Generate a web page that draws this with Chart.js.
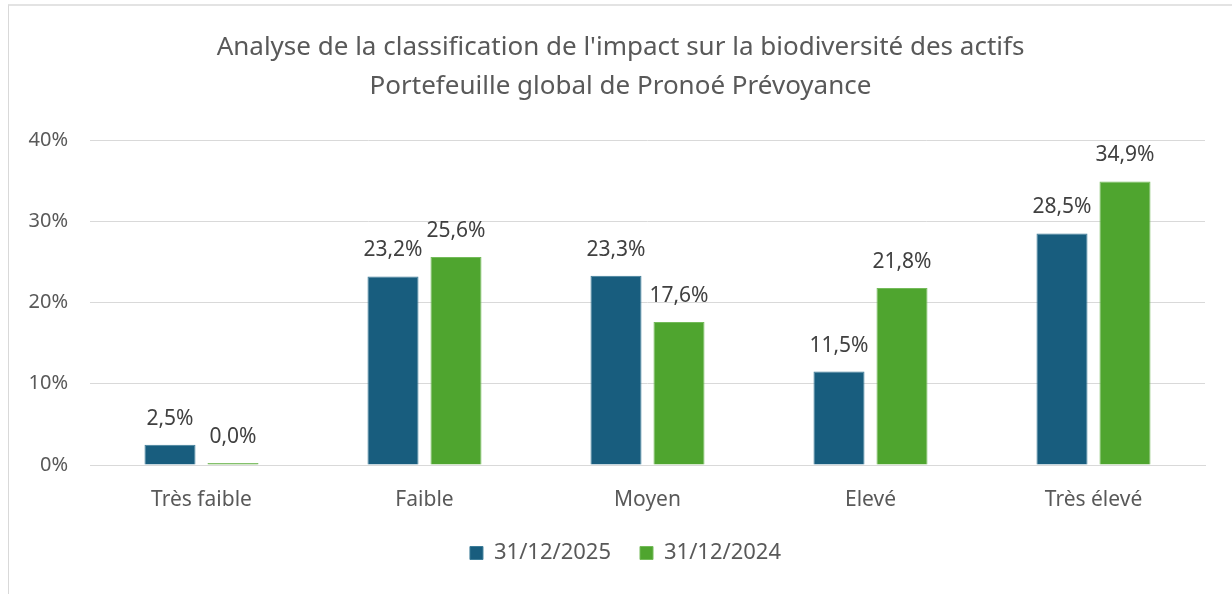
<!DOCTYPE html>
<html>
<head>
<meta charset="utf-8">
<script src="https://cdn.jsdelivr.net/npm/chart.js@4.4.1/dist/chart.umd.min.js"></script>
<style>
  html, body { margin: 0; padding: 0; background: #fff; }
  #cadre { position: absolute; left: 0; top: 0; width: 1232px; height: 594px; overflow: hidden; }
  #bordure { position: absolute; left: 8px; top: 4px; width: 1300px; height: 600px; border: 1px solid #d9d9d9; border-top: 2px solid #e3e3e3; }
  #zone { position: absolute; left: 0; top: 0; width: 1232px; height: 594px; }
</style>
</head>
<body>
<div id="cadre">
  <div id="bordure"></div>
  <div id="zone"><canvas id="graphique"></canvas></div>
</div>
<script>
// Données
const categories = ['Très faible', 'Faible', 'Moyen', 'Elevé', 'Très élevé'];
const valeurs2025 = [2.5, 23.2, 23.3, 11.5, 28.5];
const valeurs2024 = [0.0, 25.6, 17.6, 21.8, 34.9];
const ticksY = [0, 10, 20, 30, 40];
const titre = ["Analyse de la classification de l'impact sur la biodiversité des actifs", 'Portefeuille global de Pronoé Prévoyance'];

const police = '"Noto Sans", sans-serif';

// Étiquettes au-dessus des barres
const etiquettes = {
  id: 'etiquettes',
  afterDatasetsDraw(chart) {
    const ctx = chart.ctx;
    ctx.save();
    ctx.font = '21px ' + police;
    ctx.fillStyle = '#404040';
    ctx.textAlign = 'center';
    ctx.textBaseline = 'middle';
    chart.data.datasets.forEach((ds, i) => {
      chart.getDatasetMeta(i).data.forEach((barre, j) => {
        const txt = ds.data[j].toFixed(1).replace('.', ',') + '%';
        ctx.fillText(txt, barre.x, barre.y - 26);
      });
    });
    ctx.restore();
  }
};

// Titre et légende un peu décalés vers la droite, comme dans Excel
const decalage = {
  id: 'decalage',
  afterLayout(chart) {
    const l = chart.legend;
    l.left += 46;
    l.width = l.right - l.left;
    const t = chart.titleBlock;
    t.left += 36;
    t.width = t.right - t.left;
  }
};

new Chart(document.getElementById('graphique'), {
  type: 'bar',
  data: {
    labels: categories,
    datasets: [
      { label: '31/12/2025', data: valeurs2025, backgroundColor: '#185d7e', borderColor: '#3d7d99', borderWidth: 1,
        categoryPercentage: 0.565, barPercentage: 0.81 },
      { label: '31/12/2024', data: valeurs2024, backgroundColor: '#4fa52f', borderColor: '#74bb5a', borderWidth: 1,
        categoryPercentage: 0.565, barPercentage: 0.81, minBarLength: 2 }
    ]
  },
  options: {
    responsive: true,
    maintainAspectRatio: false,
    animation: false,
    layout: { padding: { left: 0, right: 27, top: 8, bottom: 20 } },
    plugins: {
      title: {
        display: true,
        text: titre,
        color: '#595959',
        font: { family: police, size: 26, weight: 'normal', lineHeight: 1.5 },
        padding: { top: 20, bottom: 34 }
      },
      legend: {
        position: 'bottom',
        labels: {
          color: '#595959',
          font: { family: police, size: 22 },
          boxWidth: 13,
          boxHeight: 13,
          padding: 29
        }
      },
      tooltip: { enabled: false }
    },
    scales: {
      x: {
        afterFit(scale) { scale.height = 48; },
        grid: { display: false, drawTicks: false },
        border: { color: '#d9d9d9' },
        ticks: { color: '#595959', font: { family: police, size: 21 }, padding: 22 }
      },
      y: {
        min: 0,
        max: 40,
        afterFit(scale) { scale.width = 90; },
        afterBuildTicks(scale) { scale.ticks = ticksY.map(v => ({ value: v })); },
        grid: { color: '#d9d9d9', drawTicks: false },
        border: { display: false },
        ticks: { color: '#595959', font: { family: police, size: 20 }, padding: 22,
          callback: v => v + '%' }
      }
    }
  },
  plugins: [etiquettes, decalage]
});
</script>
</body>
</html>
